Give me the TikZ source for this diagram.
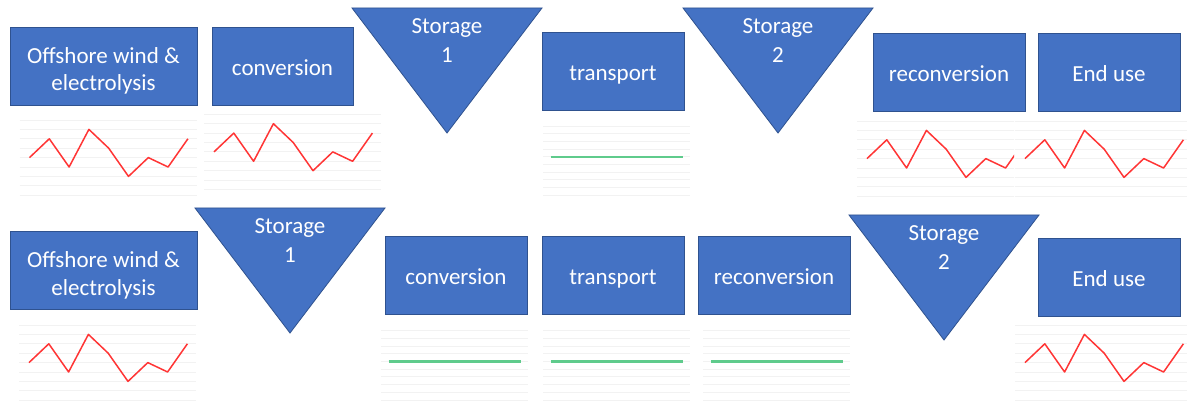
\documentclass[tikz,border=0pt]{standalone}
\usepackage{fontspec}
\setmainfont{Carlito}
\definecolor{stagefill}{HTML}{4472C4}
\definecolor{stageedge}{HTML}{2F528F}
\definecolor{traceline}{HTML}{FF3535}
\definecolor{flatline}{HTML}{5FCB8C}
\definecolor{gridgrey}{HTML}{F2F2F2}

% profile with ups and downs: #1 = left edge, #2 = top grid line
\newcommand{\wavychart}[2]{%
  \foreach \k in {0,...,8} \draw[gridline] (#1,#2+\k*9.4) -- ++(177,0);
  \draw[trace] (#1+10,#2+4*9.4)
    \foreach \v [count=\i] in {2,5,1,3,6,4,5,2} { -- (#1+10+\i*19.8,#2+\v*9.4) };
}
% constant profile: #1 = left edge, #2 = top grid line
\newcommand{\flatchart}[2]{%
  \foreach \k in {0,...,9} \draw[gridline] (#1,#2+\k*7.7) -- ++(147,0);
  \draw[flat] (#1+7.5,#2+4*7.7) -- (#1+139.5,#2+4*7.7);
}

\begin{document}
\begin{tikzpicture}[
  x=1pt,
  y=-1pt,
  every node/.style={text=white, inner sep=0pt},
  stage/.style={draw=stageedge, fill=stagefill, line width=0.8pt,
                minimum height=78pt, align=center,
                text height=24pt, text depth=5pt,
                font=\fontsize{23}{27.5}\selectfont},
  twoline/.style={text height=55pt, text depth=5pt},
  tank/.style={draw=stageedge, fill=stagefill, line width=0.8pt},
  tanklabel/.style={anchor=north, align=center,
                    font=\fontsize{23}{29.5}\selectfont},
  gridline/.style={gridgrey, line width=0.9pt},
  trace/.style={traceline, line width=1.5pt, line join=round},
  flat/.style={flatline, line width=2.5pt}
]
  \path[fill=white, use as bounding box] (0,0) rectangle (1187,401);

  % ---- upper chain --------------------------------------------------------
  \node[stage, twoline, minimum width=187pt] (wind-a) at (103.5,66) {Offshore wind \&\\electrolysis};
  \node[stage, minimum width=141pt] (conv-a) at (282.5,66) {conversion};
  \path[tank] (352,8) -- (542,8) -- (447,133) -- cycle;
  \node[tanklabel] (store1-a) at (447,18) {Storage\\1};
  \node[stage, minimum width=142pt] (trans-a) at (613,71) {transport};
  \path[tank] (683,8) -- (873,8) -- (778,133) -- cycle;
  \node[tanklabel] (store2-a) at (778,18) {Storage\\2};
  \node[stage, minimum width=152pt] (reconv-a) at (949,72) {reconversion};
  \node[stage, minimum width=142pt] (use-a) at (1109,72) {End use};

  % ---- profiles under the upper chain ------------------------------------
  \wavychart{19.5}{120}
  \wavychart{204}{114.3}
  \flatchart{543}{126}
  \begin{scope}
    \clip (850,100) rectangle (1014,205);
    \wavychart{857}{121}
  \end{scope}
  \wavychart{1015}{121}

  % ---- lower chain --------------------------------------------------------
  \node[stage, twoline, minimum width=187pt] (wind-b) at (103.5,270) {Offshore wind \&\\electrolysis};
  \path[tank] (195,208) -- (385,208) -- (290,333) -- cycle;
  \node[tanklabel] (store1-b) at (290,218) {Storage\\1};
  \node[stage, minimum width=142pt] (conv-b) at (456,275) {conversion};
  \node[stage, minimum width=142pt] (trans-b) at (613,275) {transport};
  \node[stage, minimum width=152pt] (reconv-b) at (774,275) {reconversion};
  \path[tank] (849,215) -- (1039,215) -- (944,340) -- cycle;
  \node[tanklabel] (store2-b) at (944,225) {Storage\\2};
  \node[stage, minimum width=142pt] (use-b) at (1109,277) {End use};

  % ---- profiles under the lower chain ------------------------------------
  \wavychart{19}{325}
  \flatchart{381}{330.7}
  \flatchart{543}{330.7}
  \flatchart{703}{330.7}
  \wavychart{1015}{325}

\end{tikzpicture}
\end{document}
